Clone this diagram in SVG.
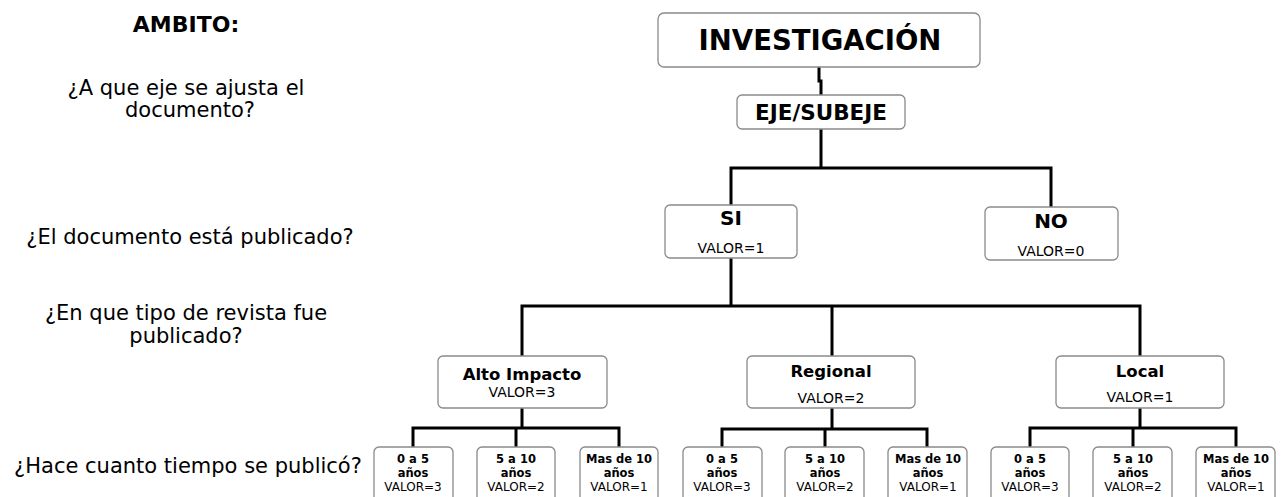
<svg xmlns="http://www.w3.org/2000/svg" width="1288" height="497" viewBox="0 0 1288 497">
<style>
.box{fill:#fff;stroke:#8a8a8a;stroke-width:1.3}
.con{fill:none;stroke:#000;stroke-width:3;stroke-linejoin:miter}
text{font-family:"DejaVu Sans","Liberation Sans",sans-serif;fill:#000;text-anchor:middle}
.b{font-weight:bold}
.q{font-size:21px}
.lb{font-size:11.5px;font-weight:bold}
.lv{font-size:12px}
.mb{font-size:16.5px;font-weight:bold}
.mv{font-size:14px}
</style>
<rect width="1288" height="497" fill="#fff"/>
<g id="labels">
<text x="186" y="32" class="b" style="font-size:22px">AMBITO:</text>
<text x="186" y="95" class="q">¿A que eje se ajusta el</text>
<text x="190" y="117" class="q">documento?</text>
<text x="190" y="244" class="q">¿El documento está publicado?</text>
<text x="186" y="320" class="q">¿En que tipo de revista fue</text>
<text x="186" y="343" class="q">publicado?</text>
<text x="188" y="473" class="q">¿Hace cuanto tiempo se publicó?</text>
</g>
<g id="connectors">
<path class="con" d="M819,67 V81 H821 V95"/>
<path class="con" d="M821,129 V168 M731,168 H1051 M731,166.5 V205 M1051,166.5 V207"/>
<path class="con" d="M731,258 V306 M522,306 H1140 M522,304.5 V356 M832,304.5 V356 M1140,304.5 V356"/>
<path class="con" d="M522,408 V428 M413,428 H619 M413,426.5 V447 M516,426.5 V447 M619,426.5 V447"/>
<path class="con" d="M832,408 V429 M722,429 H927 M722,427.5 V447 M825,427.5 V447 M927,427.5 V447"/>
<path class="con" d="M1140,408 V428 M1030,428 H1236 M1030,426.5 V447 M1133,426.5 V447 M1236,426.5 V447"/>
</g>
<g id="investigacion">
<rect class="box" x="658" y="13" width="322" height="54" rx="6"/>
<text x="820" y="50" class="b" style="font-size:27.5px">INVESTIGACIÓN</text>
</g>
<g id="eje">
<rect class="box" x="737" y="95" width="168" height="34" rx="5"/>
<text x="821" y="120" class="b" style="font-size:21.5px">EJE/SUBEJE</text>
</g>
<g id="si">
<rect class="box" x="665" y="205" width="132" height="53" rx="5"/>
<text x="731" y="225" class="b" style="font-size:20px">SI</text>
<text x="731" y="253" class="mv">VALOR=1</text>
</g>
<g id="no">
<rect class="box" x="985" y="207" width="133" height="53" rx="5"/>
<text x="1051" y="228" class="b" style="font-size:20px">NO</text>
<text x="1051" y="256" class="mv">VALOR=0</text>
</g>
<g id="alto">
<rect class="box" x="438" y="356" width="169" height="52" rx="5"/>
<text x="522" y="380" class="mb">Alto Impacto</text>
<text x="522" y="397" class="mv">VALOR=3</text>
</g>
<g id="regional">
<rect class="box" x="747" y="356" width="168" height="52" rx="5"/>
<text x="831" y="377" class="mb">Regional</text>
<text x="831" y="403" class="mv">VALOR=2</text>
</g>
<g id="local">
<rect class="box" x="1056" y="356" width="168" height="52" rx="5"/>
<text x="1140" y="377" class="mb">Local</text>
<text x="1140" y="402" class="mv">VALOR=1</text>
</g>
<g id="a1">
<rect class="box" x="374" y="447" width="79" height="56" rx="5"/>
<text x="413" y="463" class="lb">0 a 5</text><text x="413" y="477" class="lb">años</text><text x="413" y="491" class="lv">VALOR=3</text>
</g>
<g id="a2">
<rect class="box" x="477" y="447" width="78" height="56" rx="5"/>
<text x="516" y="463" class="lb">5 a 10</text><text x="516" y="477" class="lb">años</text><text x="516" y="491" class="lv">VALOR=2</text>
</g>
<g id="a3">
<rect class="box" x="580" y="447" width="78" height="56" rx="5"/>
<text x="619" y="463" class="lb">Mas de 10</text><text x="619" y="477" class="lb">años</text><text x="619" y="491" class="lv">VALOR=1</text>
</g>
<g id="r1">
<rect class="box" x="683" y="447" width="79" height="56" rx="5"/>
<text x="722" y="463" class="lb">0 a 5</text><text x="722" y="477" class="lb">años</text><text x="722" y="491" class="lv">VALOR=3</text>
</g>
<g id="r2">
<rect class="box" x="785" y="447" width="79" height="56" rx="5"/>
<text x="825" y="463" class="lb">5 a 10</text><text x="825" y="477" class="lb">años</text><text x="825" y="491" class="lv">VALOR=2</text>
</g>
<g id="r3">
<rect class="box" x="888" y="447" width="79" height="56" rx="5"/>
<text x="928" y="463" class="lb">Mas de 10</text><text x="928" y="477" class="lb">años</text><text x="928" y="491" class="lv">VALOR=1</text>
</g>
<g id="l1">
<rect class="box" x="991" y="447" width="78" height="56" rx="5"/>
<text x="1030" y="463" class="lb">0 a 5</text><text x="1030" y="477" class="lb">años</text><text x="1030" y="491" class="lv">VALOR=3</text>
</g>
<g id="l2">
<rect class="box" x="1093" y="447" width="79" height="56" rx="5"/>
<text x="1133" y="463" class="lb">5 a 10</text><text x="1133" y="477" class="lb">años</text><text x="1133" y="491" class="lv">VALOR=2</text>
</g>
<g id="l3">
<rect class="box" x="1196" y="447" width="79" height="56" rx="5"/>
<text x="1236" y="463" class="lb">Mas de 10</text><text x="1236" y="477" class="lb">años</text><text x="1236" y="491" class="lv">VALOR=1</text>
</g>
</svg>
